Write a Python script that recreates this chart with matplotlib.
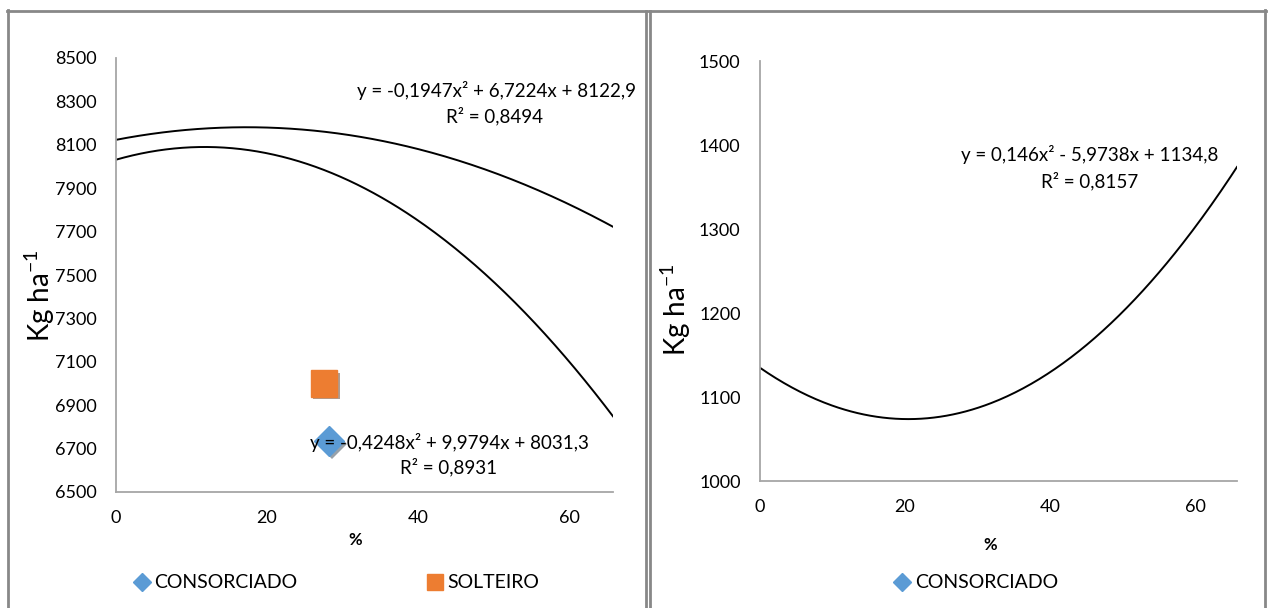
import numpy as np
import matplotlib.pyplot as plt
from matplotlib.lines import Line2D
from matplotlib import patheffects as pe

plt.rcParams['font.family'] = ['Lato', 'DejaVu Sans']

# trendline coefficients (as printed on the chart), highest power first
coef_top = [-0.1947, 6.7224, 8122.9]
coef_low = [-0.4248, 9.9794, 8031.3]
coef_right = [0.146, -5.9738, 1134.8]

eq_top = 'y = -0,1947x² + 6,7224x + 8122,9'
r2_top = 'R² = 0,8494'
eq_low = 'y = -0,4248x² + 9,9794x + 8031,3'
r2_low = 'R² = 0,8931'
eq_right = 'y = 0,146x² - 5,9738x + 1134,8'
r2_right = 'R² = 0,8157'

# markers
consorciado_x = [28.2]
consorciado_y = [6735]
solteiro_x = [27.5]
solteiro_y = [7000]

x_ticks = [0, 20, 40, 60]
y_ticks_left = list(range(6500, 8501, 200))
y_ticks_right = list(range(1000, 1501, 100))

blue = '#5B9BD5'
orange = '#ED7D31'
gray = '#888888'

W, H = 1272, 608
fig = plt.figure(figsize=(W / 100, H / 100), dpi=100)


def box(l, t, r, b):
    return [l / W, 1 - b / H, (r - l) / W, (b - t) / H]


def ftext(x, y, s, **kw):
    # place text at pixel coords measured from top-left
    fig.text(x / W, 1 - y / H, s, va='center', **kw)


shadow = [pe.SimplePatchShadow(offset=(2, -2), alpha=0.45), pe.Normal()]

x_end = 65.8
xs = np.linspace(0, x_end, 300)


def style(ax):
    for s in ['top', 'right']:
        ax.spines[s].set_visible(False)
    for s in ['left', 'bottom']:
        ax.spines[s].set_color('#a6a6a6')
        ax.spines[s].set_linewidth(1.3)
    ax.tick_params(length=0, labelsize=13, colors='black')
    ax.tick_params(axis='x', pad=13)
    ax.tick_params(axis='y', pad=14)
    ax.set_xticks(x_ticks)
    ax.set_xlim(0, x_end)


# left chart
ax1 = fig.add_axes(box(116, 58, 613, 492))
style(ax1)
ax1.plot(xs, np.polyval(coef_top, xs), color='black', lw=1.4)
ax1.plot(xs, np.polyval(coef_low, xs), color='black', lw=1.4)
ax1.plot(solteiro_x, solteiro_y, 's', ms=19, color=orange, path_effects=shadow, zorder=3)
ax1.plot(consorciado_x, consorciado_y, 'D', ms=15, color=blue, path_effects=shadow, zorder=3)
ax1.set_ylim(6500, 8500)
ax1.set_yticks(y_ticks_left)
ftext(636, 90, eq_top, fontsize=13.5, ha='right')
ftext(495, 116, r2_top, fontsize=13.5, ha='center')
ftext(449, 442, eq_low, fontsize=13.5, ha='center')
ftext(449, 467, r2_low, fontsize=13.5, ha='center')
ftext(40, 296, 'Kg ha$^{\\mathregular{-1}}$', fontsize=20, ha='center', rotation=90)
ftext(355, 540, '%', fontsize=12, fontweight='bold', ha='center')
h1 = [Line2D([], [], marker='D', ls='', color=blue, ms=9),
      Line2D([], [], marker='s', ls='', color=orange, ms=11)]
fig.legend(h1, ['CONSORCIADO', 'SOLTEIRO'], loc='center', bbox_to_anchor=(335 / W, 1 - 583 / H),
           ncol=2, frameon=False, fontsize=14, handletextpad=0.1, columnspacing=6.5, handlelength=1.1)

# right chart
ax2 = fig.add_axes(box(760, 61, 1237, 481))
style(ax2)
ax2.plot(xs, np.polyval(coef_right, xs), color='black', lw=1.4)
ax2.set_ylim(1000, 1500)
ax2.set_yticks(y_ticks_right)
ftext(1090, 155, eq_right, fontsize=13.5, ha='center')
ftext(1090, 181, r2_right, fontsize=13.5, ha='center')
ftext(676, 310, 'Kg ha$^{\\mathregular{-1}}$', fontsize=20, ha='center', rotation=90)
ftext(990, 545, '%', fontsize=12, fontweight='bold', ha='center')
h2 = [Line2D([], [], marker='D', ls='', color=blue, ms=9)]
fig.legend(h2, ['CONSORCIADO'], loc='center', bbox_to_anchor=(975 / W, 1 - 583 / H),
           frameon=False, fontsize=14, handletextpad=0.1, handlelength=1.1)

# table borders
def hline(y, x0, x1):
    fig.add_artist(Line2D([x0 / W, x1 / W], [1 - y / H, 1 - y / H], color=gray, lw=2))


def vline(x, y0, y1):
    fig.add_artist(Line2D([x / W, x / W], [1 - y0 / H, 1 - y1 / H], color=gray, lw=2))


hline(11, 7, 1266)
vline(8, 10, 608)
vline(646, 11, 608)
vline(650, 11, 608)
vline(1265, 10, 608)

fig.savefig('out.png', dpi=100)
